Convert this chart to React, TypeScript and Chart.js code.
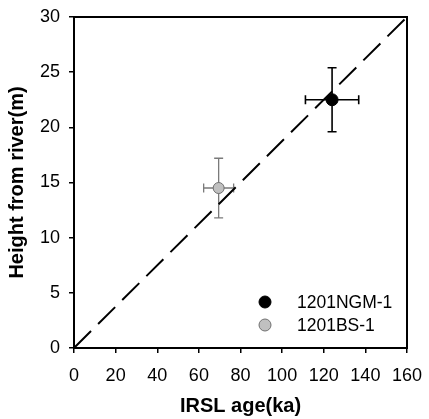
import React, { useEffect, useRef } from 'react';
import { Chart, registerables } from 'chart.js';

Chart.register(...registerables);

// ---- data ----
const sampleLabels = ['1201NGM-1', '1201BS-1'];
const ageKa = [124, 69.5];
const ageErrKa = [12.8, 7.2];
const heightM = [22.5, 14.5];
const heightErrM = [2.9, 2.7];
const refLineAge = [0, 160];
const refLineHeight = [0, 30];
const xMin = 0;
const xMax = 160;
const xStep = 20;
const yMin = 0;
const yMax = 30;
const yStep = 5;
const xTitle = 'IRSL age(ka)';
const yTitle = 'Height from river(m)';

// ---- styles ----
const pointFill = ['#000000', '#c0c0c0'];
const pointEdge = ['#000000', '#707070'];
const barColor = ['#000000', '#7a7a7a'];
const FONT = "'Liberation Sans', Arial, sans-serif";

const errorBarPlugin = {
  id: 'errorBars',
  beforeDatasetsDraw(chart: any) {
    const { ctx } = chart;
    const xs = chart.scales.x;
    const ys = chart.scales.y;
    const cap = 4.5;
    ctx.save();
    for (let i = 0; i < sampleLabels.length; i++) {
      const cx = xs.getPixelForValue(ageKa[i]);
      const cy = ys.getPixelForValue(heightM[i]);
      const x0 = xs.getPixelForValue(ageKa[i] - ageErrKa[i]);
      const x1 = xs.getPixelForValue(ageKa[i] + ageErrKa[i]);
      const y0 = ys.getPixelForValue(heightM[i] - heightErrM[i]);
      const y1 = ys.getPixelForValue(heightM[i] + heightErrM[i]);
      ctx.strokeStyle = barColor[i];
      ctx.lineWidth = i === 0 ? 1.6 : 1.3;
      ctx.beginPath();
      ctx.moveTo(x0, cy); ctx.lineTo(x1, cy);
      ctx.moveTo(cx, y0); ctx.lineTo(cx, y1);
      ctx.moveTo(x0, cy - cap); ctx.lineTo(x0, cy + cap);
      ctx.moveTo(x1, cy - cap); ctx.lineTo(x1, cy + cap);
      ctx.moveTo(cx - cap, y0); ctx.lineTo(cx + cap, y0);
      ctx.moveTo(cx - cap, y1); ctx.lineTo(cx + cap, y1);
      ctx.stroke();
    }
    ctx.restore();
  },
};

const framePlugin = {
  id: 'frame',
  afterDraw(chart: any) {
    const { ctx, chartArea } = chart;
    ctx.save();
    ctx.strokeStyle = '#000';
    ctx.lineWidth = 2;
    ctx.strokeRect(chartArea.left, chartArea.top, chartArea.right - chartArea.left, chartArea.bottom - chartArea.top);
    ctx.restore();
  },
};

const legendPlugin = {
  id: 'cornerLegend',
  afterDraw(chart: any) {
    const { ctx, chartArea } = chart;
    const dotX = chartArea.right - 142;
    const textX = chartArea.right - 110;
    const rowY = [chartArea.bottom - 46, chartArea.bottom - 23];
    ctx.save();
    ctx.font = `17.5px ${FONT}`;
    ctx.textBaseline = 'middle';
    ctx.textAlign = 'left';
    for (let i = 0; i < sampleLabels.length; i++) {
      ctx.beginPath();
      ctx.arc(dotX, rowY[i], 6, 0, Math.PI * 2);
      ctx.fillStyle = pointFill[i];
      ctx.fill();
      ctx.lineWidth = 1;
      ctx.strokeStyle = pointEdge[i];
      ctx.stroke();
      ctx.fillStyle = '#000';
      ctx.fillText(chart.data.datasets[i].label, textX, rowY[i] + 1);
    }
    ctx.restore();
  },
};

export default function App() {
  const ref = useRef<HTMLCanvasElement>(null);

  useEffect(() => {
    if (!ref.current) return;
    const sampleSets = sampleLabels.map((label, i) => ({
      type: 'scatter' as const,
      label,
      data: [{ x: ageKa[i], y: heightM[i] }],
      backgroundColor: pointFill[i],
      borderColor: pointEdge[i],
      borderWidth: 1,
      pointRadius: i === 0 ? 6 : 5.5,
      order: 0,
    }));
    const chart = new Chart(ref.current, {
      type: 'scatter',
      data: {
        datasets: [
          ...sampleSets,
          {
            type: 'line' as const,
            label: 'ref',
            data: refLineAge.map((x, i) => ({ x, y: refLineHeight[i] })),
            borderColor: '#000',
            borderWidth: 2,
            borderDash: [24, 10],
            pointRadius: 0,
            fill: false,
            order: 1,
          } as any,
        ],
      },
      plugins: [errorBarPlugin, framePlugin, legendPlugin],
      options: {
        animation: false,
        responsive: false,
        devicePixelRatio: 1,
        layout: { padding: { left: 0, top: 17, right: 22, bottom: 0 } },
        plugins: {
          legend: { display: false },
          tooltip: { enabled: false },
        },
        scales: {
          x: {
            type: 'linear',
            min: xMin,
            max: xMax,
            afterFit: (s: any) => { s.height = 71; s.paddingLeft = 0; s.paddingRight = 0; },
            ticks: {
              stepSize: xStep,
              color: '#000',
              padding: 12,
              font: { family: FONT, size: 18 },
            },
            grid: { drawOnChartArea: false, drawTicks: true, tickLength: 5, color: '#000', lineWidth: 1.5 },
            border: { display: true, color: '#000', width: 2 },
            title: {
              display: true,
              text: xTitle,
              color: '#000',
              font: { family: FONT, size: 20, weight: 'bold' },
              padding: { top: 0, bottom: 1 },
            },
          },
          y: {
            type: 'linear',
            min: yMin,
            max: yMax,
            afterFit: (s: any) => { s.width = 74; s.paddingTop = 0; s.paddingBottom = 0; },
            ticks: {
              stepSize: yStep,
              color: '#000',
              padding: 9,
              font: { family: FONT, size: 18 },
            },
            grid: { drawOnChartArea: false, drawTicks: true, tickLength: 5, color: '#000', lineWidth: 1.5 },
            border: { display: true, color: '#000', width: 2 },
            title: {
              display: true,
              text: yTitle,
              color: '#000',
              font: { family: FONT, size: 20, weight: 'bold' },
              padding: { top: 5, bottom: 0 },
            },
          },
        },
      } as any,
    });
    return () => chart.destroy();
  }, []);

  return (
    <div style={{ position: 'absolute', left: 0, top: 0, width: 429, height: 419, background: '#fff' }}>
      <canvas ref={ref} width={429} height={419} />
    </div>
  );
}
